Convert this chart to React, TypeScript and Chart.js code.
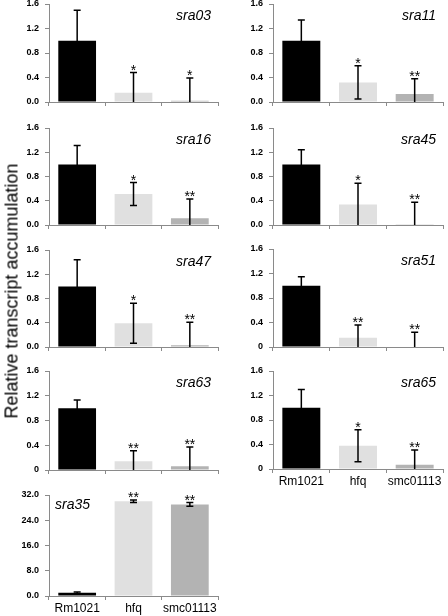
import React, { useEffect, useRef } from "react";
import { Chart, registerables } from "chart.js";

Chart.register(...registerables);

// ---------------- data ----------------
const categories = ["Rm1021", "hfq", "smc01113"];

const sra03Values = [1.0, 0.15, 0.02];
const sra03Errors = [0.5, 0.33, 0.37];
const sra03Stars = ["", "*", "*"];

const sra11Values = [1.0, 0.32, 0.13];
const sra11Errors = [0.34, 0.27, 0.25];
const sra11Stars = ["", "*", "**"];

const sra16Values = [1.0, 0.51, 0.11];
const sra16Errors = [0.31, 0.19, 0.32];
const sra16Stars = ["", "*", "**"];

const sra45Values = [1.0, 0.34, 0.005];
const sra45Errors = [0.24, 0.35, 0.37];
const sra45Stars = ["", "*", "**"];

const sra47Values = [1.0, 0.39, 0.03];
const sra47Errors = [0.44, 0.33, 0.38];
const sra47Stars = ["", "*", "**"];

const sra51Values = [1.0, 0.15, 0.01];
const sra51Errors = [0.145, 0.21, 0.23];
const sra51Stars = ["", "**", "**"];

const sra63Values = [1.0, 0.14, 0.06];
const sra63Errors = [0.13, 0.17, 0.31];
const sra63Stars = ["", "**", "**"];

const sra65Values = [1.0, 0.38, 0.07];
const sra65Errors = [0.3, 0.26, 0.24];
const sra65Stars = ["", "*", "**"];

const sra35Values = [1.0, 30.0, 29.0];
const sra35Errors = [0.3, 0.4, 0.6];
const sra35Stars = ["", "**", "**"];

const smallTicks = [0, 0.4, 0.8, 1.2, 1.6];
const largeTicks = [0, 8, 16, 24, 32];

const yAxisTitle = "Relative transcript accumulation";

// ---------------- styles / layout ----------------
const barColors = ["#000000", "#e0e0e0", "#b3b3b3"];
const axisColor = "#8a8a8a";

type PanelDef = {
  name: string;
  values: number[];
  errors: number[];
  stars: string[];
  ticks: number[];
  zeroLabel: string;
  showLabels: boolean;
  titleLeft: boolean;
  col: number;
  plotTop: number;
  plotH: number;
};

const panels: PanelDef[] = [
  { name: "sra03", values: sra03Values, errors: sra03Errors, stars: sra03Stars, ticks: smallTicks, zeroLabel: "0.0", showLabels: false, titleLeft: false, col: 0, plotTop: 4, plotH: 98 },
  { name: "sra11", values: sra11Values, errors: sra11Errors, stars: sra11Stars, ticks: smallTicks, zeroLabel: "0.0", showLabels: false, titleLeft: false, col: 1, plotTop: 4, plotH: 98 },
  { name: "sra16", values: sra16Values, errors: sra16Errors, stars: sra16Stars, ticks: smallTicks, zeroLabel: "0.0", showLabels: false, titleLeft: false, col: 0, plotTop: 128, plotH: 97 },
  { name: "sra45", values: sra45Values, errors: sra45Errors, stars: sra45Stars, ticks: smallTicks, zeroLabel: "0.0", showLabels: false, titleLeft: false, col: 1, plotTop: 128, plotH: 97 },
  { name: "sra47", values: sra47Values, errors: sra47Errors, stars: sra47Stars, ticks: smallTicks, zeroLabel: "0.0", showLabels: false, titleLeft: false, col: 0, plotTop: 250, plotH: 97 },
  { name: "sra51", values: sra51Values, errors: sra51Errors, stars: sra51Stars, ticks: smallTicks, zeroLabel: "0", showLabels: false, titleLeft: false, col: 1, plotTop: 249, plotH: 98 },
  { name: "sra63", values: sra63Values, errors: sra63Errors, stars: sra63Stars, ticks: smallTicks, zeroLabel: "0", showLabels: false, titleLeft: false, col: 0, plotTop: 371, plotH: 99 },
  { name: "sra65", values: sra65Values, errors: sra65Errors, stars: sra65Stars, ticks: smallTicks, zeroLabel: "0", showLabels: true, titleLeft: false, col: 1, plotTop: 371, plotH: 98 },
  { name: "sra35", values: sra35Values, errors: sra35Errors, stars: sra35Stars, ticks: largeTicks, zeroLabel: "0.0", showLabels: true, titleLeft: true, col: 0, plotTop: 495, plotH: 101 },
];

const PAD_TOP = 8;
const CANVAS_W = 224;

function Panel({ p }: { p: PanelDef }) {
  const ref = useRef<HTMLCanvasElement | null>(null);
  const xH = p.showLabels ? 20 : 6;
  const height = PAD_TOP + p.plotH + xH;

  useEffect(() => {
    if (!ref.current) return;
    const extras = {
      id: "extras",
      afterDatasetsDraw(chart: any) {
        const ctx = chart.ctx;
        const meta = chart.getDatasetMeta(0);
        const y = chart.scales.y;
        const area = chart.chartArea;
        ctx.save();
        p.values.forEach((v, i) => {
          const bar = meta.data[i];
          const x = bar.x;
          const hi = v + p.errors[i];
          const loRaw = v - p.errors[i];
          const lo = Math.max(0, loRaw);
          const yHi = y.getPixelForValue(hi);
          const yLo = y.getPixelForValue(lo);
          ctx.strokeStyle = "#000";
          ctx.lineWidth = 1.5;
          ctx.beginPath();
          ctx.moveTo(x, yLo);
          ctx.lineTo(x, yHi);
          ctx.moveTo(x - 3.5, yHi);
          ctx.lineTo(x + 3.5, yHi);
          if (loRaw > 0) {
            ctx.moveTo(x - 3.5, yLo);
            ctx.lineTo(x + 3.5, yLo);
          }
          ctx.stroke();
          if (p.stars[i]) {
            ctx.fillStyle = "#000";
            ctx.font = "14px 'Liberation Sans', Arial, sans-serif";
            ctx.textAlign = "center";
            ctx.textBaseline = "alphabetic";
            ctx.fillText(p.stars[i], x, yHi + 2);
          }
        });
        ctx.fillStyle = "#000";
        ctx.font = "italic 14px 'Liberation Sans', Arial, sans-serif";
        ctx.textBaseline = "alphabetic";
        if (p.titleLeft) {
          ctx.textAlign = "left";
          ctx.fillText(p.name, area.left + 6, area.top + 14);
        } else {
          ctx.textAlign = "right";
          ctx.fillText(p.name, area.right - 7, area.top + 16);
        }
        ctx.restore();
      },
    };

    const chart = new Chart(ref.current, {
      type: "bar",
      data: {
        labels: categories,
        datasets: [
          {
            data: p.values,
            backgroundColor: barColors,
            borderWidth: 0,
            categoryPercentage: 1,
            barPercentage: 0.67,
          },
        ],
      },
      options: {
        animation: false,
        responsive: false,
        devicePixelRatio: 1,
        layout: { padding: { top: PAD_TOP, right: p.col === 0 ? 6 : 5, left: 0, bottom: 0 } },
        plugins: { legend: { display: false }, tooltip: { enabled: false }, title: { display: false } },
        scales: {
          x: {
            offset: true,
            grid: { display: true, offset: true, drawOnChartArea: false, drawTicks: true, tickLength: 4, color: axisColor },
            border: { display: true, color: axisColor, width: 1 },
            ticks: {
              display: p.showLabels,
              autoSkip: false,
              maxRotation: 0,
              minRotation: 0,
              color: "#000",
              padding: 1,
              font: { family: "'Liberation Sans', Arial, sans-serif", size: 12 },
            },
            afterFit: (s: any) => {
              s.height = xH;
              s.paddingLeft = 0;
              s.paddingRight = 0;
            },
          },
          y: {
            min: p.ticks[0],
            max: p.ticks[p.ticks.length - 1],
            afterBuildTicks: (s: any) => {
              s.ticks = p.ticks.map((v) => ({ value: v }));
            },
            grid: { display: true, drawOnChartArea: false, drawTicks: true, tickLength: 4, color: axisColor },
            border: { display: true, color: axisColor, width: 1 },
            ticks: {
              color: "#000",
              padding: 6,
              font: { family: "'Liberation Sans', Arial, sans-serif", size: 9, weight: "bold" },
              callback: (v: any) => (Number(v) === 0 ? p.zeroLabel : Number(v).toFixed(1)),
            },
            afterFit: (s: any) => {
              s.width = 49;
              s.paddingTop = 0;
              s.paddingBottom = 0;
            },
          },
        },
      },
      plugins: [extras],
    } as any);
    return () => chart.destroy();
  }, []);

  return (
    <canvas
      ref={ref}
      width={CANVAS_W}
      height={height}
      style={{
        position: "absolute",
        left: p.col * CANVAS_W,
        top: p.plotTop - PAD_TOP,
        width: CANVAS_W,
        height,
      }}
    />
  );
}

export default function App() {
  return (
    <div style={{ position: "absolute", left: 0, top: 0, width: 448, height: 616, background: "#fff", overflow: "hidden" }}>
      {panels.map((p) => (
        <Panel key={p.name} p={p} />
      ))}
      <div
        style={{
          position: "absolute",
          left: 12,
          top: 291,
          transform: "translate(-50%, -50%) rotate(-90deg)",
          whiteSpace: "nowrap",
          fontFamily: "'Liberation Sans', Arial, sans-serif",
          fontSize: 18,
          color: "#000",
        }}
      >
        {yAxisTitle}
      </div>
    </div>
  );
}
